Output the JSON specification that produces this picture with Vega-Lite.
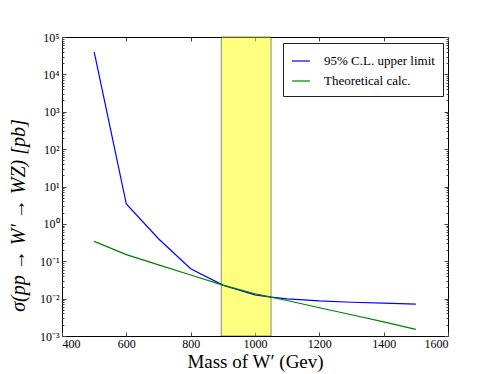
{
  "$schema": "https://vega.github.io/schema/vega-lite/v6.json",
  "width": 386,
  "height": 299,
  "autosize": {"type": "none"},
  "padding": {"left": 62, "top": 37, "right": 50, "bottom": 38},
  "background": "white",
  "config": {
    "view": {"stroke": "black", "strokeWidth": 1},
    "font": "Liberation Serif",
    "axis": {"domain": false, "grid": false, "tickColor": "#444444", "labelColor": "black", "labelFont": "Liberation Serif", "titleFont": "Liberation Serif", "titleColor": "black", "titleFontWeight": "normal", "labelFontSize": 12}
  },
  "datasets": {
    "curves": [
      {"mass": 500, "sigma": 40000, "series": "95% C.L. upper limit"},
      {"mass": 600, "sigma": 3.4, "series": "95% C.L. upper limit"},
      {"mass": 700, "sigma": 0.4, "series": "95% C.L. upper limit"},
      {"mass": 800, "sigma": 0.063, "series": "95% C.L. upper limit"},
      {"mass": 900, "sigma": 0.023, "series": "95% C.L. upper limit"},
      {"mass": 1000, "sigma": 0.0126, "series": "95% C.L. upper limit"},
      {"mass": 1050, "sigma": 0.011, "series": "95% C.L. upper limit"},
      {"mass": 1100, "sigma": 0.0099, "series": "95% C.L. upper limit"},
      {"mass": 1200, "sigma": 0.0087, "series": "95% C.L. upper limit"},
      {"mass": 1300, "sigma": 0.008, "series": "95% C.L. upper limit"},
      {"mass": 1400, "sigma": 0.0076, "series": "95% C.L. upper limit"},
      {"mass": 1500, "sigma": 0.0071, "series": "95% C.L. upper limit"},
      {"mass": 500, "sigma": 0.34, "series": "Theoretical calc."},
      {"mass": 600, "sigma": 0.15, "series": "Theoretical calc."},
      {"mass": 700, "sigma": 0.08, "series": "Theoretical calc."},
      {"mass": 800, "sigma": 0.043, "series": "Theoretical calc."},
      {"mass": 900, "sigma": 0.023, "series": "Theoretical calc."},
      {"mass": 1000, "sigma": 0.0135, "series": "Theoretical calc."},
      {"mass": 1050, "sigma": 0.011, "series": "Theoretical calc."},
      {"mass": 1100, "sigma": 0.0089, "series": "Theoretical calc."},
      {"mass": 1200, "sigma": 0.0057, "series": "Theoretical calc."},
      {"mass": 1300, "sigma": 0.0037, "series": "Theoretical calc."},
      {"mass": 1400, "sigma": 0.0024, "series": "Theoretical calc."},
      {"mass": 1500, "sigma": 0.0015, "series": "Theoretical calc."}
    ],
    "band": [{"start": 895, "end": 1050}]
  },
  "resolve": {"axis": {"x": "independent", "y": "independent"}},
  "layer": [
    {
      "data": {"name": "band"},
      "mark": {"type": "rect", "fill": "#ffff00", "fillOpacity": 0.5, "stroke": "black", "strokeOpacity": 0.45, "strokeWidth": 1},
      "encoding": {
        "x": {"field": "start", "type": "quantitative", "scale": {"domain": [400, 1600], "nice": false, "zero": false}, "axis": null},
        "x2": {"field": "end"}
      }
    },
    {
      "data": {"name": "curves"},
      "mark": {"type": "line", "strokeWidth": 1.2, "clip": true},
      "encoding": {
        "x": {"field": "mass", "type": "quantitative", "scale": {"domain": [400, 1600], "nice": false, "zero": false},
          "axis": {"orient": "bottom", "values": [400, 600, 800, 1000, 1200, 1400, 1600], "format": "d", "tickSize": -4, "labelPadding": 6, "title": "Mass of W′ (Gev)", "titleFontSize": 19, "titlePadding": 3}},
        "y": {"field": "sigma", "type": "quantitative", "scale": {"type": "log", "domain": [0.001, 100000], "nice": false},
          "axis": {"orient": "left", "values": [0.001, 0.01, 0.1, 1, 10, 100, 1000, 10000, 100000], "tickSize": -4, "labelPadding": 7,
            "labelExpr": "'10' + ['⁻³','⁻²','⁻¹','⁰','¹','²','³','⁴','⁵'][round(log(datum.value)/LN10)+3]",
            "title": "σ(pp → W′ → WZ) [pb]", "titleFontSize": 20, "titleFontStyle": "italic", "titleX": -34, "titleY": 178}},
        "color": {"field": "series", "type": "nominal",
          "scale": {"domain": ["95% C.L. upper limit", "Theoretical calc."], "range": ["#0000ff", "#008000"]},
          "legend": {"title": null, "orient": "none", "legendX": 221, "legendY": 6, "symbolType": "stroke", "symbolSize": 324, "symbolStrokeWidth": 1.2, "labelFontSize": 13, "labelFont": "Liberation Serif", "labelColor": "black", "strokeColor": "#222222", "fillColor": "white", "padding": 8, "rowPadding": 3, "labelOffset": 13, "cornerRadius": 0}}
      }
    },
    {
      "data": {"name": "curves"},
      "mark": {"type": "line", "opacity": 0},
      "encoding": {
        "x": {"field": "mass", "type": "quantitative", "scale": {"domain": [400, 1600], "nice": false, "zero": false},
          "axis": {"orient": "top", "values": [400, 600, 800, 1000, 1200, 1400, 1600], "tickSize": -4, "labels": false, "title": null}},
        "y": {"field": "sigma", "type": "quantitative", "scale": {"type": "log", "domain": [0.001, 100000], "nice": false},
          "axis": {"orient": "right", "values": [0.001, 0.01, 0.1, 1, 10, 100, 1000, 10000, 100000], "tickSize": -4, "labels": false, "title": null}}
      }
    },
    {
      "data": {"name": "curves"},
      "mark": {"type": "line", "opacity": 0},
      "encoding": {
        "x": {"field": "mass", "type": "quantitative", "scale": {"domain": [400, 1600], "nice": false, "zero": false}, "axis": null},
        "y": {"field": "sigma", "type": "quantitative", "scale": {"type": "log", "domain": [0.001, 100000], "nice": false},
          "axis": {"orient": "left", "tickSize": -2, "labels": false, "title": null,
            "values": [0.002,0.003,0.004,0.005,0.006,0.007,0.008,0.009,0.02,0.03,0.04,0.05,0.06,0.07,0.08,0.09,0.2,0.3,0.4,0.5,0.6,0.7,0.8,0.9,2,3,4,5,6,7,8,9,20,30,40,50,60,70,80,90,200,300,400,500,600,700,800,900,2000,3000,4000,5000,6000,7000,8000,9000,20000,30000,40000,50000,60000,70000,80000,90000]}}
      }
    },
    {
      "data": {"name": "curves"},
      "mark": {"type": "line", "opacity": 0},
      "encoding": {
        "x": {"field": "mass", "type": "quantitative", "scale": {"domain": [400, 1600], "nice": false, "zero": false}, "axis": null},
        "y": {"field": "sigma", "type": "quantitative", "scale": {"type": "log", "domain": [0.001, 100000], "nice": false},
          "axis": {"orient": "right", "tickSize": -2, "labels": false, "title": null,
            "values": [0.002,0.003,0.004,0.005,0.006,0.007,0.008,0.009,0.02,0.03,0.04,0.05,0.06,0.07,0.08,0.09,0.2,0.3,0.4,0.5,0.6,0.7,0.8,0.9,2,3,4,5,6,7,8,9,20,30,40,50,60,70,80,90,200,300,400,500,600,700,800,900,2000,3000,4000,5000,6000,7000,8000,9000,20000,30000,40000,50000,60000,70000,80000,90000]}}
      }
    }
  ]
}
